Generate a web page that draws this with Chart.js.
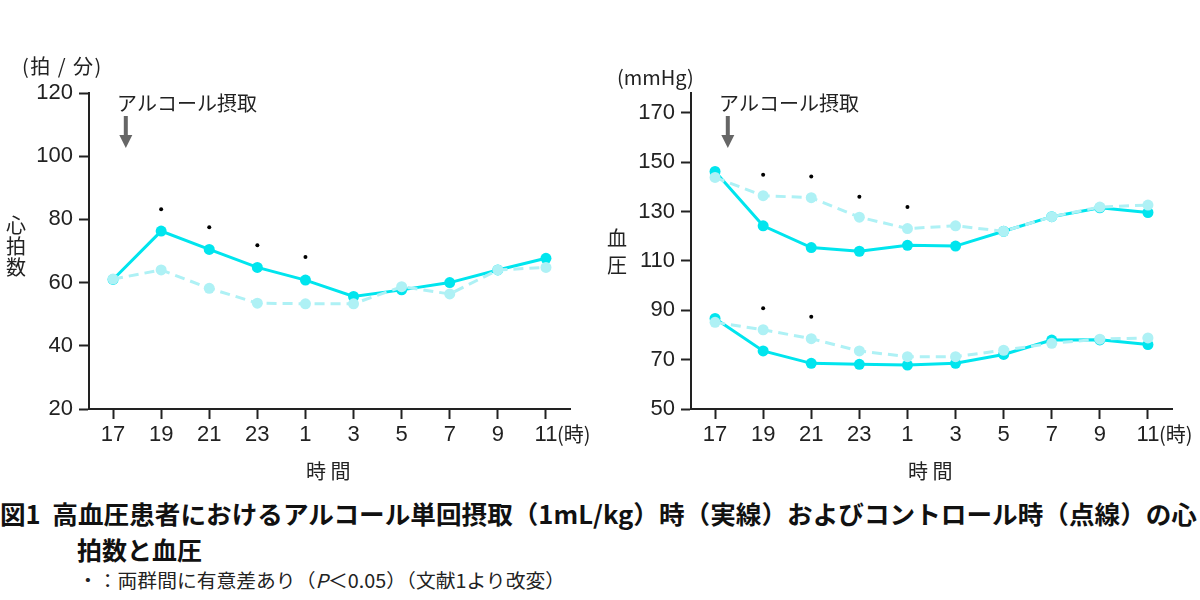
<!DOCTYPE html>
<html lang="ja">
<head>
<meta charset="utf-8">
<script src="https://cdn.jsdelivr.net/npm/chart.js@4.4.1/dist/chart.umd.min.js"></script>
<style>
  body { margin: 0; width: 1200px; height: 600px; background: #fff; position: relative; overflow: hidden;
         font-family: "Noto Sans CJK JP", "Noto Sans", sans-serif; color: #222; }
  canvas { position: absolute; top: 0; }
  .txt { position: absolute; white-space: nowrap; color: #222; }
  .vert { position: absolute; font-size: 20px; text-align: center; width: 24px; }
  .legenda { position: absolute; white-space: nowrap; font-weight: bold; color: #111; transform-origin: left center; }
</style>
</head>
<body>
<canvas id="graficoFC" width="600" height="480" style="left:0"></canvas>
<canvas id="graficoPA" width="600" height="480" style="left:600px"></canvas>

<!-- titulos dos eixos -->
<div class="txt" style="left:22px; top:51px; font-size:20px; letter-spacing:1.5px;">(拍 / 分)</div>
<div class="txt" style="left:617px; top:62px; font-size:20px;">(mmHg)</div>
<div class="vert" style="left:4px; top:214px; line-height:21px;">心<br>拍<br>数</div>
<div class="vert" style="left:605px; top:224px; line-height:27px;">血<br>圧</div>
<div class="txt" style="left:306px; top:456px; font-size:20px;">時 間</div>
<div class="txt" style="left:908px; top:456px; font-size:20px;">時 間</div>

<!-- legenda da figura -->
<div class="legenda" id="leg1" style="left:0; top:495px; font-size:25px;">図1&nbsp;&nbsp;高血圧患者におけるアルコール単回摂取（1mL/kg）時（実線）およびコントロール時（点線）の心</div>
<div class="legenda" style="left:77px; top:531px; font-size:25px;">拍数と血圧</div>
<div class="txt" id="leg3" style="left:78px; top:566px; font-size:19px; transform-origin:left center;">・：両群間に有意差あり（<i>P</i>＜0.05）（文献1より改変）</div>

<script>
// horarios (eixo x)
const horas = ["17", "19", "21", "23", "1", "3", "5", "7", "9", "11"];

// frequencia cardiaca (拍/分)
const fcAlcool = [61.0, 76.3, 70.5, 64.8, 60.8, 55.6, 57.7, 60.0, 64.0, 67.7];
const fcControle = [61.1, 64.0, 58.2, 53.5, 53.3, 53.3, 58.7, 56.4, 64.0, 64.8];
const fcSignif = [null, 83.2, 77.5, 71.8, 68.1, null, null, null, null, null];
const ticksFC = [20, 40, 60, 80, 100, 120];

// pressao arterial (mmHg) - sistolica e diastolica
const pasAlcool = [146.2, 124.2, 115.4, 113.9, 116.3, 116.0, 122.0, 127.9, 131.5, 129.6];
const pasControle = [143.8, 136.4, 135.6, 127.7, 123.1, 124.2, 122.0, 127.9, 131.8, 132.6];
const padAlcool = [86.7, 73.5, 68.5, 68.1, 67.8, 68.5, 72.1, 77.9, 78.0, 76.1];
const padControle = [85.1, 82.1, 78.5, 73.5, 71.2, 71.2, 73.8, 76.6, 78.3, 78.8];
const pasSignif = [null, 144.9, 144.2, 136.0, 131.8, null, null, null, null, null];
const padSignif = [null, 90.8, 87.4, null, null, null, null, null, null, null];
const ticksPA = [50, 70, 90, 110, 130, 150, 170];

const corSolida = "#00e5ee";
const corClara = "#aef1f5";
const corEixo = "#222";

// linha solida (alcool)
function serieSolida(dados) {
  return {
    data: dados,
    borderColor: corSolida,
    backgroundColor: corSolida,
    borderWidth: 3,
    pointRadius: 5.5,
    pointBorderWidth: 0,
    tension: 0,
    order: 2,
  };
}

// linha tracejada (controle)
function serieTracejada(dados) {
  return {
    data: dados,
    borderColor: corClara,
    backgroundColor: corClara,
    borderWidth: 3,
    borderDash: [10, 6],
    pointRadius: 5.5,
    pointBorderWidth: 0,
    tension: 0,
    order: 1,
  };
}

// pontinhos de significancia
function seriePontos(dados) {
  return {
    data: dados,
    showLine: false,
    pointRadius: 2,
    pointBorderWidth: 0,
    backgroundColor: "#000",
    borderColor: "#000",
    order: 0,
  };
}

// seta, texto "アルコール摂取" e "(時)"
const anotacoes = {
  id: "anotacoes",
  afterDraw(chart) {
    const ctx = chart.ctx;
    const x = chart.scales.x;
    const x0 = x.getPixelForValue(0);
    const passo = x.getPixelForValue(1) - x0;

    ctx.save();
    ctx.fillStyle = corEixo;
    ctx.font = '20px "Noto Sans CJK JP"';
    ctx.textBaseline = "middle";
    ctx.textAlign = "left";
    ctx.fillText("アルコール摂取", x0 + 4, 103);

    // seta cinza
    const xs = x0 + passo * 0.265;
    ctx.fillStyle = "#666";
    ctx.fillRect(xs - 2, 116, 4, 22);
    ctx.beginPath();
    ctx.moveTo(xs - 6.5, 135);
    ctx.lineTo(xs + 6.5, 135);
    ctx.lineTo(xs, 148);
    ctx.closePath();
    ctx.fill();

    // (時) depois do ultimo rotulo
    const xu = x.getPixelForValue(horas.length - 1);
    ctx.fillStyle = corEixo;
    ctx.font = '20px "Noto Sans CJK JP"';
    ctx.fillText("(時)", xu + 11, 434);
    ctx.restore();
  },
};

function opcoes(ticksY, ymin, ymax, largY, dirPad) {
  return {
    responsive: false,
    animation: false,
    layout: { padding: { left: 0, top: 93, right: dirPad, bottom: 0 } },
    plugins: { legend: { display: false }, tooltip: { enabled: false } },
    scales: {
      x: {
        type: "category",
        offset: true,
        grid: { display: true, drawOnChartArea: false, drawTicks: true, tickLength: 10, tickColor: corEixo, tickWidth: 2, offset: false },
        border: { display: true, color: corEixo, width: 2 },
        ticks: { color: corEixo, font: { family: "Liberation Sans", size: 22 }, padding: 3, maxRotation: 0, autoSkip: false },
        afterFit(s) { s.height = 71; },
      },
      y: {
        min: ymin,
        max: ymax,
        grid: { display: true, drawOnChartArea: false, drawTicks: true, tickLength: 10, tickColor: corEixo, tickWidth: 2 },
        border: { display: true, color: corEixo, width: 2 },
        ticks: { color: corEixo, font: { family: "Liberation Sans", size: 22 }, padding: 6 },
        afterBuildTicks(s) { s.ticks = ticksY.map(v => ({ value: v })); },
        afterFit(s) { s.width = largY; },
      },
    },
  };
}

let graficoFC = new Chart(document.getElementById("graficoFC"), {
  type: "line",
  data: {
    labels: horas,
    datasets: [serieSolida(fcAlcool), serieTracejada(fcControle), seriePontos(fcSignif)],
  },
  options: opcoes(ticksFC, 20, 120, 89, 30),
  plugins: [anotacoes],
});

let graficoPA = new Chart(document.getElementById("graficoPA"), {
  type: "line",
  data: {
    labels: horas,
    datasets: [
      serieSolida(pasAlcool), serieTracejada(pasControle),
      serieSolida(padAlcool), serieTracejada(padControle),
      seriePontos(pasSignif), seriePontos(padSignif),
    ],
  },
  options: opcoes(ticksPA, 50, 178, 91, 28),
  plugins: [anotacoes],
});

// ajustar as linhas da legenda para a largura do original
function ajustarLargura(id, alvo) {
  const el = document.getElementById(id);
  const larg = el.getBoundingClientRect().width;
  el.style.transform = `scaleX(${alvo / larg})`;
}
ajustarLargura("leg1", 1197);
ajustarLargura("leg3", 487);
</script>
</body>
</html>
